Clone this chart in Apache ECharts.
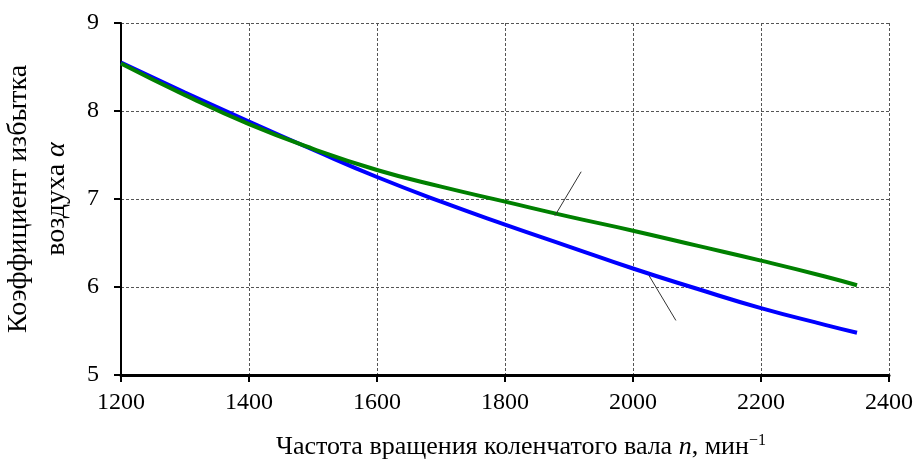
<!DOCTYPE html>
<html>
<head>
<meta charset="utf-8">
<script src="https://cdn.jsdelivr.net/npm/echarts@6/dist/echarts.min.js"></script>
<style>
  html, body { margin: 0; padding: 0; background: #fff; }
  #chart { width: 915px; height: 459px; }
</style>
</head>
<body>
<div id="chart"></div>
<script>
// частота вращения, мин-1
var rpm = [1200, 1300, 1400, 1500, 1600, 1700, 1800, 1900, 2000, 2100, 2200, 2300, 2350];
// коэффициент избытка воздуха
var alphaBlue = [8.55, 8.21, 7.88, 7.56, 7.25, 6.97, 6.71, 6.46, 6.21, 5.98, 5.76, 5.57, 5.48];
var alphaGreen = [8.54, 8.18, 7.85, 7.57, 7.33, 7.14, 6.97, 6.80, 6.64, 6.47, 6.30, 6.12, 6.02];
// выноски
var leaderGreen = [[1878, 6.81], [1919, 7.31]];
var leaderBlue = [[2025, 6.13], [2067, 5.62]];

function pairs(xs, ys) {
  return xs.map(function (x, i) { return [x, ys[i]]; });
}

var chart = echarts.init(document.getElementById('chart'));
var font = '"Liberation Serif", "Times New Roman", serif';

var option = {
  animation: false,
  backgroundColor: '#fff',
  grid: { left: 121, right: 26, top: 23, bottom: 84, outerBoundsMode: 'none', containLabel: false },
  xAxis: {
    type: 'value',
    min: 1200, max: 2400, interval: 200,
    name: 'Частота вращения коленчатого вала {i|n}, мин{sup|−1}',
    nameLocation: 'middle',
    nameGap: 58,
    nameTextStyle: {
      fontFamily: font, fontSize: 26, color: '#000',
      padding: [0, 0, 0, 32],
      rich: {
        i: { fontFamily: font, fontSize: 26, fontStyle: 'italic', color: '#000' },
        sup: { fontFamily: font, fontSize: 16, color: '#000', padding: [0, 0, 12, 0] }
      }
    },
    axisLine: { lineStyle: { color: '#000', width: 3 } },
    axisTick: { inside: false, length: 7, lineStyle: { color: '#000', width: 2 } },
    axisLabel: {
      fontFamily: font, fontSize: 24, color: '#000', margin: 16,
      formatter: function (v) { return String(v); }
    },
    splitLine: { lineStyle: { color: '#555', type: [3, 2], width: 1 } }
  },
  yAxis: {
    type: 'value',
    min: 5, max: 9, interval: 1,
    name: 'Коэффициент избытка\nвоздуха {i|α}',
    nameLocation: 'middle',
    nameGap: 36,
    nameTextStyle: {
      fontFamily: font, fontSize: 28, color: '#000', lineHeight: 38,
      rich: {
        i: { fontFamily: font, fontSize: 28, fontStyle: 'italic', color: '#000', lineHeight: 38 }
      }
    },
    axisLine: { show: true, lineStyle: { color: '#000', width: 2 } },
    axisTick: { show: true, inside: false, length: 7, lineStyle: { color: '#000', width: 2 } },
    axisLabel: { fontFamily: font, fontSize: 24, color: '#000', margin: 22 },
    splitLine: { lineStyle: { color: '#555', type: [3, 2], width: 1 } }
  },
  series: [
    {
      type: 'line',
      data: pairs(rpm, alphaBlue),
      smooth: true,
      symbol: 'none',
      lineStyle: { color: '#0000ff', width: 4 },
      z: 3
    },
    {
      type: 'line',
      data: pairs(rpm, alphaGreen),
      smooth: true,
      symbol: 'none',
      lineStyle: { color: '#008000', width: 4 },
      z: 4
    },
    {
      type: 'line',
      data: leaderGreen,
      symbol: 'none',
      lineStyle: { color: '#333', width: 1 },
      z: 5
    },
    {
      type: 'line',
      data: leaderBlue,
      symbol: 'none',
      lineStyle: { color: '#333', width: 1 },
      z: 5
    }
  ]
};

chart.setOption(option);
</script>
</body>
</html>
